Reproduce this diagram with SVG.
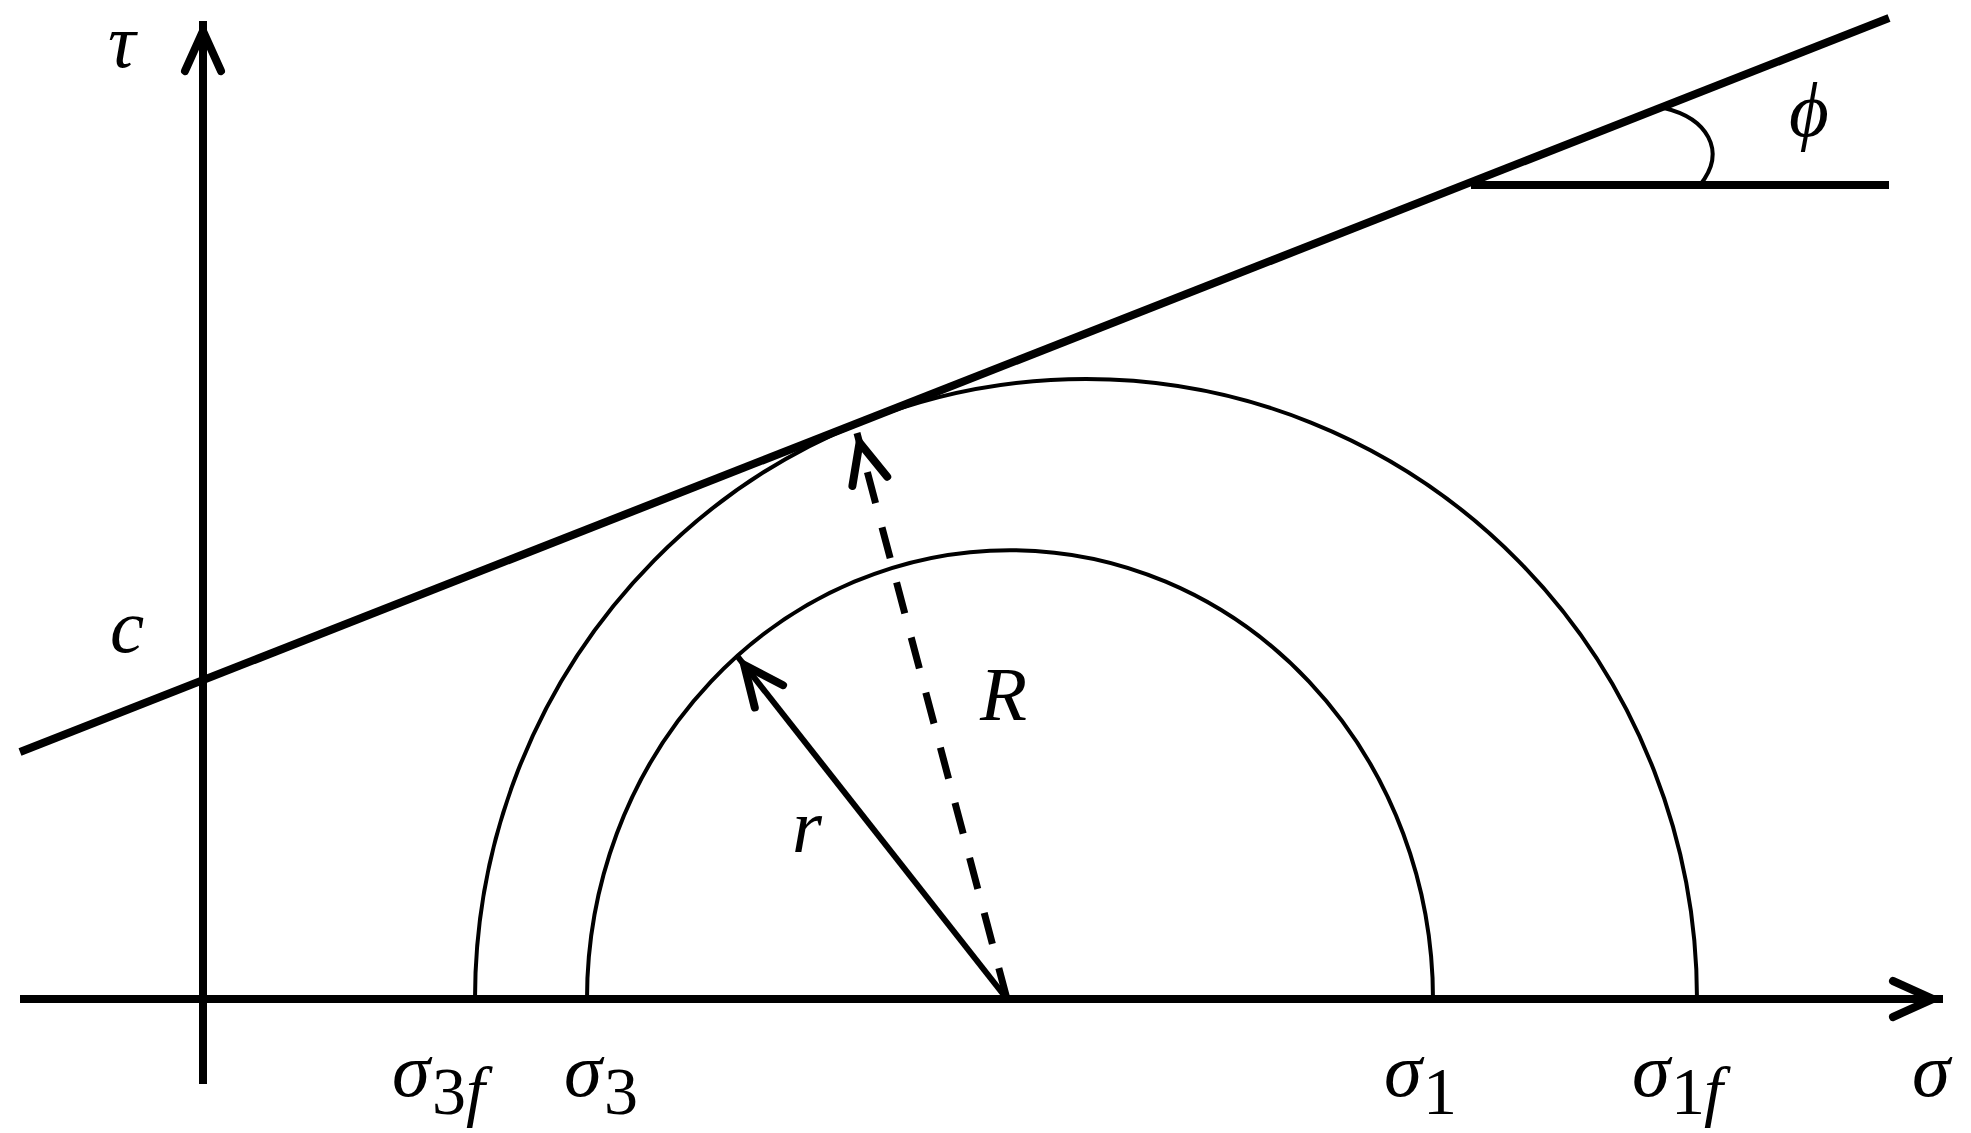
<svg xmlns="http://www.w3.org/2000/svg" width="1971" height="1133" viewBox="0 0 1971 1133">
<style>
.ax{stroke:#000;stroke-width:8;fill:none}
.thin{stroke:#000;stroke-width:4;fill:none}
.m{font-family:"Liberation Serif","Times New Roman",serif;font-style:italic;font-size:77px;fill:#000}
.s{font-size:68px}
.up{font-style:normal}
</style>
<defs>
<marker id="arr" markerUnits="userSpaceOnUse" orient="auto" refX="10" refY="0" markerWidth="80" markerHeight="80" viewBox="-60 -30 80 60" overflow="visible">
<path d="M-40,-18 L0,0 L-40,18" fill="none" stroke="#000" stroke-width="8" stroke-linecap="round" stroke-linejoin="miter" stroke-miterlimit="10" stroke-dasharray="none"/>
</marker>
</defs>
<g id="connectors">
<path id="tau-axis" class="ax" d="M203,1084 L203,21" marker-end="url(#arr)"/>
<path id="sigma-axis" class="ax" d="M20,999 L1943,999" marker-end="url(#arr)"/>
<path id="failure-line" class="ax" d="M20,752 L1889,18"/>
<path id="phi-ref" class="ax" d="M1471,185 L1889,185"/>
<path id="phi-arc" class="thin" d="M1664,108 C1706,118 1728,150 1700,185"/>
<path id="r-arrow" d="M1007,999 L738,657" fill="none" stroke="#000" stroke-width="6" marker-end="url(#arr)"/>
<path id="R-arrow" d="M1007,999 L857,433" fill="none" stroke="#000" stroke-width="7" stroke-dasharray="32 25" marker-end="url(#arr)"/>
</g>
<g id="circle-inner"><path class="thin" d="M587,999 A423,449 0 0 1 1433,999"/></g>
<g id="circle-outer"><path class="thin" d="M475,999 A611,620 0 0 1 1697,999"/></g>
<g id="labels">
<text class="m" x="108" y="67">τ</text>
<text class="m" x="110" y="652">c</text>
<text class="m" x="1789" y="136">ϕ</text>
<text class="m" x="980" y="720">R</text>
<text class="m" x="792" y="852">r</text>
<text class="m" x="392" y="1096">σ<tspan class="s up" x="432" y="1114">3</tspan><tspan class="s" x="466" y="1114">f</tspan></text>
<text class="m" x="564" y="1096">σ<tspan class="s up" x="604" y="1114">3</tspan></text>
<text class="m" x="1384" y="1096">σ<tspan class="s up" x="1423" y="1114">1</tspan></text>
<text class="m" x="1632" y="1096">σ<tspan class="s up" x="1671" y="1114">1</tspan><tspan class="s" x="1704" y="1114">f</tspan></text>
<text class="m" x="1912" y="1096">σ</text>
</g>
</svg>
